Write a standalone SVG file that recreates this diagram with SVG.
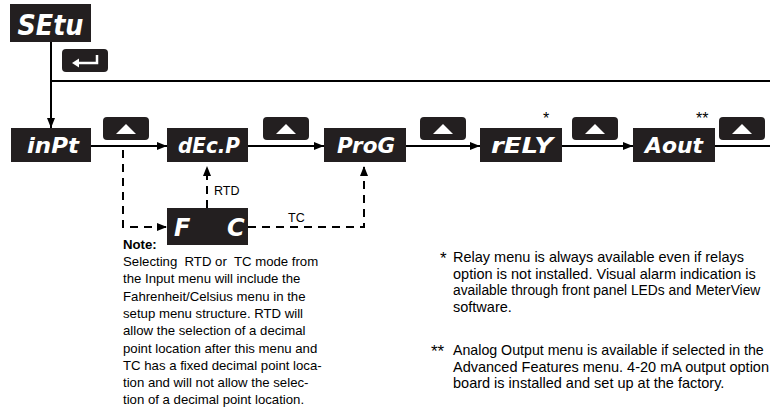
<svg xmlns="http://www.w3.org/2000/svg" width="770" height="408" viewBox="0 0 770 408">
<style>
.box{fill:#231f20}
.btn{fill:#231f20}
.seg{fill:#fff;font-family:"DejaVu Sans",sans-serif;font-weight:bold;font-style:italic}
.ln{stroke:#000;stroke-width:2;fill:none}
.dash{stroke:#000;stroke-width:2;fill:none;stroke-dasharray:8,6}
.tx{font-family:"Liberation Sans",Arial,sans-serif;fill:#000}
</style>
<defs>
<marker id="arr" viewBox="0 0 10 8" refX="10" refY="4" markerWidth="10" markerHeight="8" markerUnits="userSpaceOnUse" orient="auto">
<path d="M0,0 L10,4 L0,8 z" fill="#000"/>
</marker>
<g id="up"><polygon points="-10,5 10,5 0,-5" fill="#fff"/></g>
</defs>

<g id="connectors">
<path class="ln" d="M51,42 V128" marker-end="url(#arr)"/>
<path class="ln" d="M51,81 H770"/>
<path class="ln" d="M91,146 H167" marker-end="url(#arr)"/>
<path class="ln" d="M248,146 H324" marker-end="url(#arr)"/>
<path class="ln" d="M406,146 H480" marker-end="url(#arr)"/>
<path class="ln" d="M562,146 H633" marker-end="url(#arr)"/>
<path class="ln" d="M715,146 H770"/>
<path class="dash" d="M123,150 V227 H167" marker-end="url(#arr)"/>
<path class="dash" d="M207,208 V166" marker-end="url(#arr)"/>
<path class="dash" d="M248,227 H364 V166" marker-end="url(#arr)"/>
</g>

<g id="setu"><rect class="box" x="10" y="4" width="81" height="38"/><text class="seg" x="50.5" y="35" font-size="28" text-anchor="middle" textLength="66" lengthAdjust="spacingAndGlyphs">SEtu</text></g>
<g id="enter"><rect class="btn" x="62" y="49" width="46" height="23" rx="4"/><path d="M97,55 V63 H78" stroke="#fff" stroke-width="2.5" fill="none"/><polygon points="72,63 79,58.5 79,67.5" fill="#fff"/></g>

<g id="inpt"><rect class="box" x="11" y="128" width="80" height="34"/><text class="seg" x="53" y="153" font-size="22" text-anchor="middle" textLength="52" lengthAdjust="spacingAndGlyphs">inPt</text></g>
<g id="decp"><rect class="box" x="167" y="128" width="81" height="34"/><text class="seg" x="209" y="153" font-size="22" text-anchor="middle" textLength="62" lengthAdjust="spacingAndGlyphs">dEc.P</text></g>
<g id="prog"><rect class="box" x="324" y="128" width="82" height="34"/><text class="seg" x="366" y="153" font-size="22" text-anchor="middle" textLength="58" lengthAdjust="spacingAndGlyphs">ProG</text></g>
<g id="rely"><rect class="box" x="480" y="128" width="82" height="34"/><text class="seg" x="522" y="153" font-size="22" text-anchor="middle" textLength="62" lengthAdjust="spacingAndGlyphs">rELY</text></g>
<g id="aout"><rect class="box" x="633" y="128" width="82" height="34"/><text class="seg" x="674" y="153" font-size="22" text-anchor="middle" textLength="58" lengthAdjust="spacingAndGlyphs">Aout</text></g>
<g id="fc"><rect class="box" x="167" y="208" width="81" height="37"/><text class="seg" font-size="24" y="236"><tspan x="174">F</tspan><tspan x="227">C</tspan></text></g>

<g id="btn1"><rect class="btn" x="103" y="117" width="46" height="23" rx="4"/><use href="#up" x="126" y="129"/></g>
<g id="btn2"><rect class="btn" x="263" y="117" width="46" height="23" rx="4"/><use href="#up" x="286" y="129"/></g>
<g id="btn3"><rect class="btn" x="420" y="117" width="46" height="23" rx="4"/><use href="#up" x="443" y="129"/></g>
<g id="btn4"><rect class="btn" x="572" y="117" width="46" height="23" rx="4"/><use href="#up" x="595" y="129"/></g>
<g id="btn5"><rect class="btn" x="719" y="117" width="46" height="23" rx="4"/><use href="#up" x="742" y="129"/></g>

<g id="labels">
<text class="tx" x="543" y="124" font-size="16">*</text>
<text class="tx" x="696" y="124" font-size="16">**</text>
<text class="tx" x="214" y="195" font-size="12.5">RTD</text>
<text class="tx" x="288" y="222" font-size="12.5">TC</text>
</g>

<g id="note" class="tx" font-size="13.2">
<text x="123" y="249" font-weight="bold">Note:</text>
<text x="123" y="266" xml:space="preserve">Selecting  RTD or  TC mode from</text>
<text x="123" y="283.3">the Input menu will include the</text>
<text x="123" y="300.6">Fahrenheit/Celsius menu in the</text>
<text x="123" y="317.9">setup menu structure. RTD will</text>
<text x="123" y="335.2">allow the selection of a decimal</text>
<text x="123" y="352.5">point location after this menu and</text>
<text x="123" y="369.8">TC has a fixed decimal point loca-</text>
<text x="123" y="387.1">tion and will not allow the selec-</text>
<text x="123" y="404.4">tion of a decimal point location.</text>
</g>

<g id="footnotes" class="tx" font-size="14.5">
<text x="440" y="264" font-size="17">*</text>
<text x="453" y="262">Relay menu is always available even if relays</text>
<text x="453" y="278.5">option is not installed. Visual alarm indication is</text>
<text x="453" y="295" font-size="13.8">available through front panel LEDs and MeterView</text>
<text x="453" y="311.5">software.</text>
<text x="431" y="357" font-size="17">**</text>
<text x="453" y="355" font-size="14.2">Analog Output menu is available if selected in the</text>
<text x="453" y="371.5">Advanced Features menu. 4-20 mA output option</text>
<text x="453" y="388">board is installed and set up at the factory.</text>
</g>
</svg>
